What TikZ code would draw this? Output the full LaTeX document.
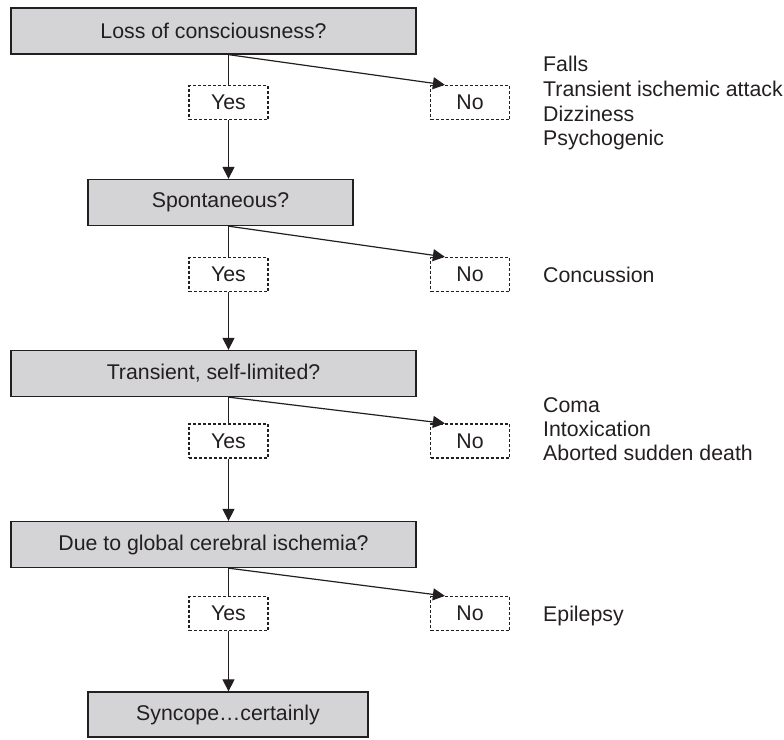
\documentclass[tikz,border=0pt]{standalone}
\usepackage{fontspec}
\setmainfont{Liberation Sans}
\usetikzlibrary{arrows.meta,calc}
\definecolor{boxgray}{RGB}{212,212,214}
\definecolor{ink}{RGB}{35,31,32}
\begin{document}
\begin{tikzpicture}[x=1pt,y=-1pt,
  font=\fontsize{21.3}{25}\selectfont,
  qbox/.style={draw=ink,line width=1.3pt,fill=boxgray,text=ink,inner sep=0pt,minimum height=46pt},
  ansbox/.style={draw=ink,line width=1.2pt,dash pattern=on 3pt off 2pt,fill=white,text=ink,inner sep=0pt,minimum width=79pt,minimum height=34pt},
  sidetxt/.style={anchor=base west,inner sep=0pt,text=ink},
  conn/.style={draw=ink,line width=1.2pt},
  arr/.style={conn,-{Triangle[length=12pt,width=12pt]}}]
\useasboundingbox (0,0) rectangle (784,739);
% question boxes
\node[qbox,minimum width=405pt] (b1) at (213.5,31) {Loss of consciousness?};
\node[qbox,minimum width=265pt] (b2) at (220.5,202.5) {Spontaneous?};
\node[qbox,minimum width=405pt] (b3) at (213.5,373.5) {Transient, self-limited?};
\node[qbox,minimum width=405pt] (b4) at (213.5,544.5) {Due to global cerebral ischemia?};
\node[qbox,minimum width=280pt,minimum height=45pt] (b5) at (228,714.5) {Syncope…certainly};
% yes / no boxes
\node[ansbox] (y1) at (228.5,102.5) {Yes};
\node[ansbox] (n1) at (470,102.5) {No};
\node[ansbox] (y2) at (228.5,274.5) {Yes};
\node[ansbox] (n2) at (470,274.5) {No};
\node[ansbox] (y3) at (228.5,441) {Yes};
\node[ansbox] (n3) at (470,441) {No};
\node[ansbox] (y4) at (228.5,613.5) {Yes};
\node[ansbox] (n4) at (470,613.5) {No};
% side texts
\node[sidetxt] (s1a) at (543,71) {Falls};
\node[sidetxt] (s1b) at (543,96) {Transient ischemic attack};
\node[sidetxt] (s1c) at (543,121) {Dizziness};
\node[sidetxt] (s1d) at (543,145) {Psychogenic};
\node[sidetxt] (s2) at (543,282) {Concussion};
\node[sidetxt] (s3a) at (543,412) {Coma};
\node[sidetxt] (s3b) at (543,436) {Intoxication};
\node[sidetxt] (s3c) at (543,460) {Aborted sudden death};
\node[sidetxt] (s4) at (543,621) {Epilepsy};
% connectors
\foreach \b/\y/\n/\nb in {b1/y1/n1/b2, b2/y2/n2/b3, b3/y3/n3/b4, b4/y4/n4/b5}{
  \draw[conn] (\y.north |- \b.south) -- (\y.north);
  \draw[arr] (\y.south) -- (\y.south |- \nb.north);
  \draw[arr] (\y.north |- \b.south) -- ([xshift=15pt]\n.north west);
}
\end{tikzpicture}
\end{document}
